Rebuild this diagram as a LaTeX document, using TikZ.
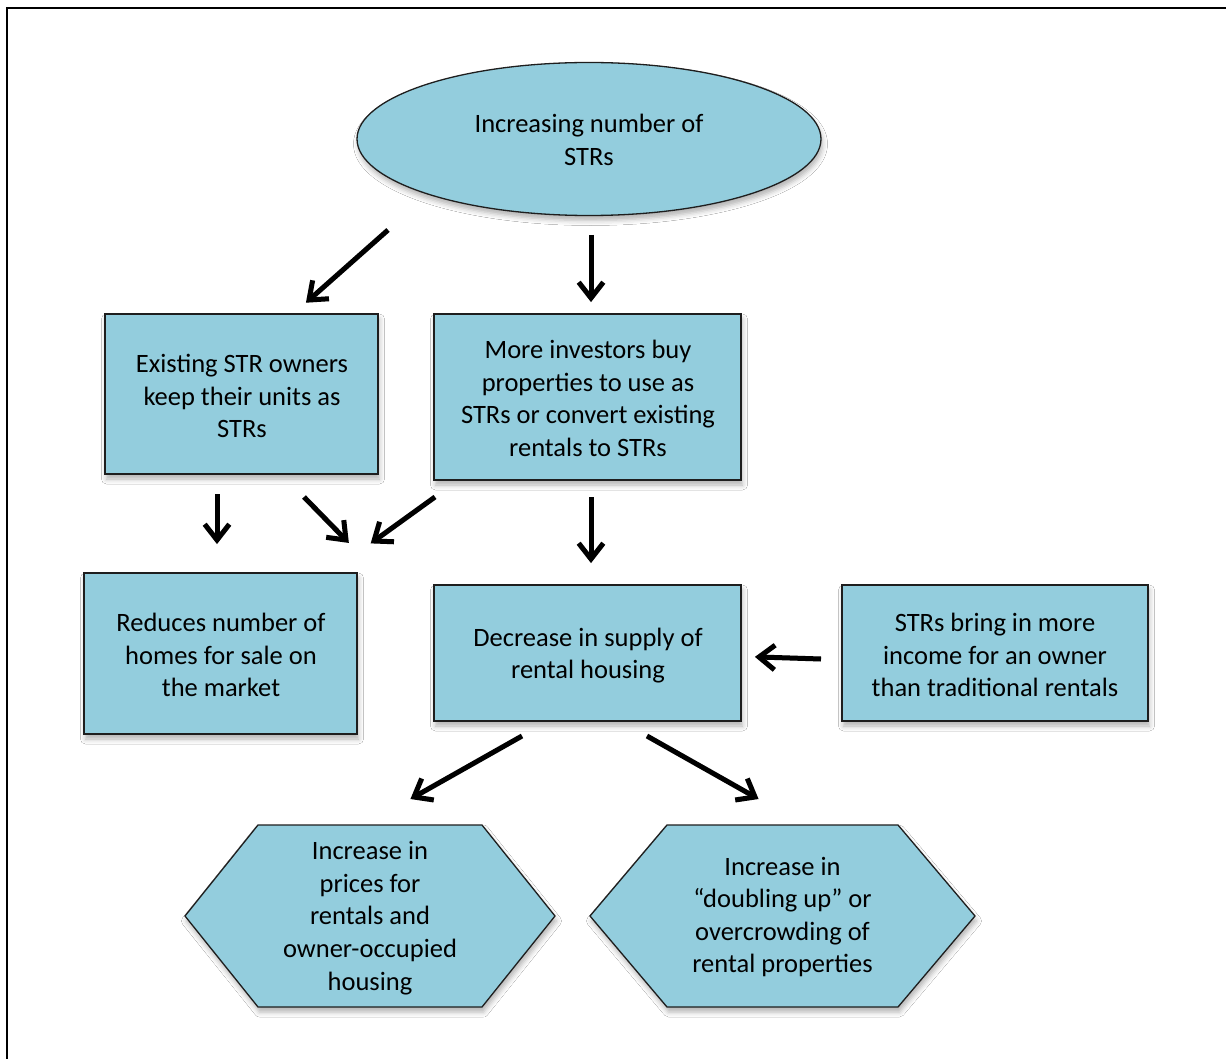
\documentclass[tikz,border=0pt]{standalone}
\usepackage{fontspec}
\setmainfont{Carlito}
\usetikzlibrary{shapes.geometric,calc,shadows.blur}
\definecolor{boxfill}{RGB}{147,205,221}
\definecolor{boxline}{RGB}{30,30,30}
\tikzset{
  shade/.style={blur shadow={shadow xshift=1.5pt,shadow yshift=-5pt,shadow blur radius=5pt,shadow opacity=30}},
  flowbox/.style={rectangle,draw=boxline,line width=1.3pt,fill=boxfill,inner sep=0pt,align=center,shade},
  flowell/.style={ellipse,draw=boxline,line width=1.3pt,fill=boxfill,inner sep=0pt,align=center,shade},
  hexshape/.style={draw=boxline,line width=1.3pt,fill=boxfill,shade},
  lbl/.style={align=center,inner sep=0pt},
  arrline/.style={line width=5pt,line cap=butt,line join=miter}
}
\begin{document}
\begin{tikzpicture}[x=1pt,y=-1pt,font=\fontsize{26.5}{32.6}\selectfont]
\useasboundingbox (0,0) rectangle (1226,1059);
\fill[white] (0,0) rectangle (1226,1059);
% frame
\draw[line width=2.2pt] (7,1059) -- (7,8) -- (1226,8);

% ellipse
\node[flowell,minimum width=464pt,minimum height=153pt] (e) at (589,139) {};
\node[lbl] (et) at (589,140) {Increasing number of\\STRs};

% boxes
\node[flowbox,minimum width=273pt,minimum height=160pt] (b1) at (241.5,394) {};
\node[lbl] (b1t) at (242,396) {Existing STR owners\\keep their units as\\STRs};
\node[flowbox,minimum width=307pt,minimum height=166pt] (b2) at (587.5,397) {};
\node[lbl] (b2t) at (588,398.5) {More investors buy\\properties to use as\\STRs or convert existing\\rentals to STRs};
\node[flowbox,minimum width=273pt,minimum height=161pt] (b3) at (220.5,653.5) {};
\node[lbl] (b3t) at (221,655) {Reduces number of\\homes for sale on\\the market};
\node[flowbox,minimum width=307pt,minimum height=136pt] (b4) at (587.5,653) {};
\node[lbl] (b4t) at (588,655.5) {Decrease in supply of\\rental housing};
\node[flowbox,minimum width=306pt,minimum height=136pt] (b5) at (995,653) {};
\node[lbl] (b5t) at (995,655) {STRs bring in more\\income for an owner\\than traditional rentals};

% hexagons
\draw[hexshape] (185,916) -- (258,825) -- (482,825) -- (555,916) -- (482,1007) -- (258,1007) -- cycle;
\node[lbl] (h1) at (370,918) {Increase in\\prices for\\rentals and\\owner-occupied\\housing};
\draw[hexshape] (590,916) -- (667,825) -- (898,825) -- (975,916) -- (898,1007) -- (667,1007) -- cycle;
\node[lbl] (h2) at (782.5,917) {Increase in\\``doubling up'' or\\overcrowding of\\rental properties};

% arrow endpoints
\coordinate (a1s) at (388,230); \coordinate (a1e) at (309,300);
\coordinate (a2s) at (591,235); \coordinate (a2e) at (591,298);
\coordinate (a3s) at (217,494); \coordinate (a3e) at (217,540);
\coordinate (a4s) at (304,497); \coordinate (a4e) at (346,540);
\coordinate (a5s) at (435,497); \coordinate (a5e) at (374,541);
\coordinate (a6s) at (591,497); \coordinate (a6e) at (591,559);
\coordinate (a7s) at (821,659); \coordinate (a7e) at (759,657);
\coordinate (a8s) at (522,736); \coordinate (a8e) at (414,797);
\coordinate (a9s) at (647,736); \coordinate (a9e) at (755,797);

\foreach \i in {1,...,9}{
  \begin{scope}[shift={(2pt,-4pt)},draw=black!30,opacity=0.45]
    \draw[arrline,shorten >=3pt] (a\i s) -- (a\i e);
    \draw[arrline] ($(a\i e)!20pt!38:(a\i s)$) -- (a\i e) -- ($(a\i e)!20pt!-38:(a\i s)$);
  \end{scope}
}
\foreach \i in {1,...,9}{
  \draw[arrline,shorten >=3pt] (a\i s) -- (a\i e);
  \draw[arrline] ($(a\i e)!20pt!38:(a\i s)$) -- (a\i e) -- ($(a\i e)!20pt!-38:(a\i s)$);
}
\end{tikzpicture}
\end{document}
